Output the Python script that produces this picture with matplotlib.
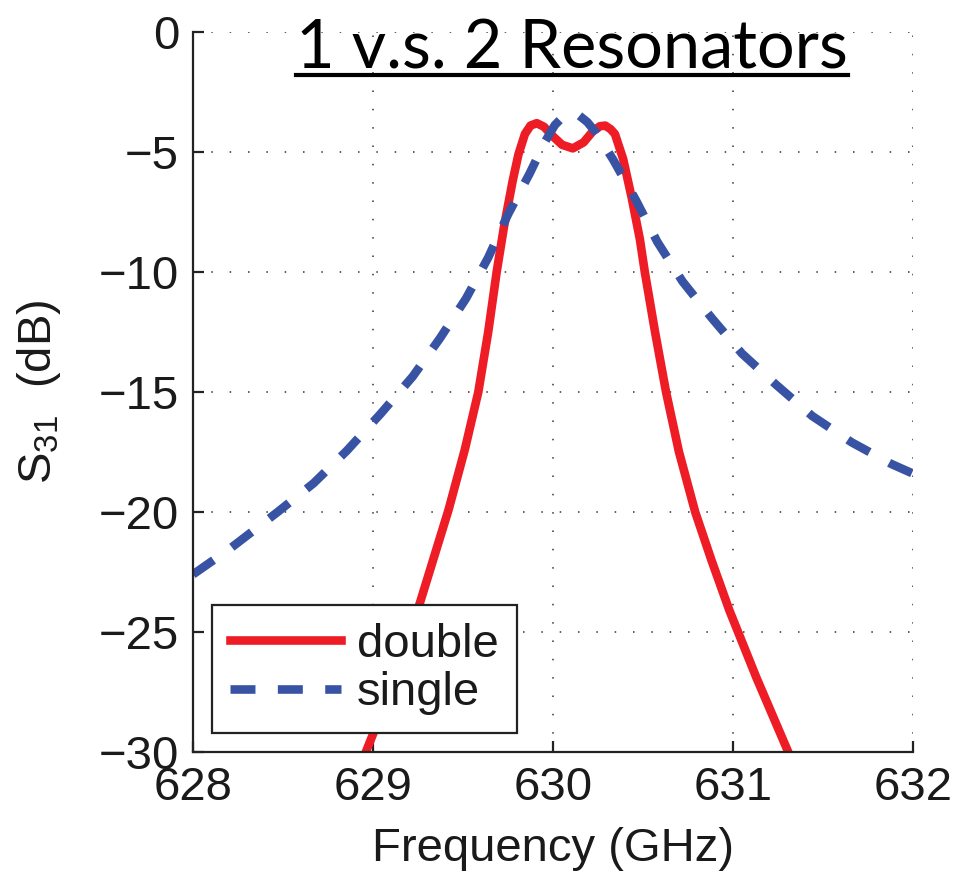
import matplotlib
matplotlib.use("Agg")
import matplotlib.pyplot as plt
from matplotlib.lines import Line2D

plt.rcParams['font.family'] = ['Liberation Sans', 'DejaVu Sans']
plt.rcParams['mathtext.fontset'] = 'custom'
plt.rcParams['mathtext.rm'] = 'Liberation Sans'
plt.rcParams['mathtext.it'] = 'Liberation Sans'

# two coupled resonators (red) vs. a single resonator (blue)
freq_double = [628.96, 629.094, 629.26, 629.42, 629.51, 629.585, 629.64, 629.687,
               629.728, 629.776, 629.808, 629.844, 629.875, 629.91, 629.95, 630.00,
               630.05, 630.11, 630.17, 630.22, 630.26, 630.29, 630.32, 630.344,
               630.39, 630.437, 630.483, 630.51, 630.567, 630.628, 630.70, 630.79,
               630.88, 630.98, 631.13, 631.307]
s31_double = [-30.0, -27.5, -23.8, -19.9, -17.4, -15.0, -12.5, -10.0,
              -8.1, -6.2, -5.1, -4.25, -3.9, -3.8, -3.95, -4.35,
              -4.7, -4.85, -4.6, -4.15, -3.93, -3.9, -4.05, -4.25,
              -5.3, -6.9, -8.65, -10.0, -12.5, -15.0, -17.5, -20.0,
              -22.0, -24.1, -26.9, -30.0]

freq_single = [628.00, 628.21, 628.47, 628.67, 628.854, 629.043, 629.22, 629.372,
               629.517, 629.64, 629.75, 629.87, 629.956, 630.01, 630.06, 630.10,
               630.14, 630.19, 630.24, 630.335, 630.46, 630.58, 630.72, 630.88,
               631.05, 631.24, 631.44, 631.66, 631.88, 632.00]
s31_single = [-22.6, -21.5, -20.0, -18.8, -17.45, -15.9, -14.36, -12.76,
              -11.1, -9.4, -7.6, -5.9, -4.57, -3.88, -3.5, -3.4,
              -3.45, -3.75, -4.2, -5.33, -7.0, -8.75, -10.4, -11.9,
              -13.4, -14.7, -16.0, -17.1, -18.0, -18.4]

xticks = [628, 629, 630, 631, 632]
yticks = [0, -5, -10, -15, -20, -25, -30]

fig = plt.figure(figsize=(9.58, 8.71), dpi=100)
ax = fig.add_axes([0.2015, 0.1366, 0.7515, 0.8267])

ax.plot(freq_double, s31_double, color='#EE1C25', lw=6.2, label='double',
        solid_joinstyle='round')
ax.plot(freq_single, s31_single, color='#3953A4', lw=6.2, label='single',
        linestyle=(0, (2.9, 2.6)), dash_capstyle='butt')

ax.set_xlim(628, 632)
ax.set_ylim(-30, 0)
ax.set_xticks(xticks)
ax.set_yticks(yticks)
ax.set_yticklabels(['0' if t == 0 else '\u2212%d' % -t for t in yticks])

ax.grid(True, color='#333333', linestyle=(0, (1, 11)), lw=1.1)
ax.set_axisbelow(True)
for side in ('top', 'right'):
    ax.spines[side].set_visible(False)
for side in ('left', 'bottom'):
    ax.spines[side].set_linewidth(1.6)
    ax.spines[side].set_color('#222222')
ax.tick_params(direction='in', length=8, width=1.6, labelsize=34,
               color='#222222', labelcolor='#1a1a1a')
ax.tick_params(axis='x', pad=10)
ax.tick_params(axis='y', pad=10)

ax.set_xlabel('Frequency (GHz)', fontsize=34, color='#1a1a1a', labelpad=12)
ax.set_ylabel(r'S$_{31}$  (dB)', fontsize=34, color='#1a1a1a', labelpad=26)

leg = ax.legend(loc='lower left', bbox_to_anchor=(0.026, 0.026), fontsize=34,
                frameon=True, fancybox=False, framealpha=1, handlelength=2.35,
                handletextpad=0.35, borderpad=0.38, labelspacing=0.1,
                borderaxespad=0)
leg.get_frame().set_edgecolor('#222222')
leg.get_frame().set_linewidth(1.6)
for txt in leg.get_texts():
    txt.set_color('#1a1a1a')

title = fig.text(0.597, 0.921, '1 v.s. 2 Resonators', family='Lato',
                 fontsize=48, ha='center', va='baseline', color='black')
fig.canvas.draw()
bb = title.get_window_extent().transformed(fig.transFigure.inverted())
fig.add_artist(Line2D([bb.x0, bb.x1], [0.9208 - 0.007, 0.9208 - 0.007],
                      transform=fig.transFigure, color='black', lw=3))

fig.savefig('out.png', dpi=100)
